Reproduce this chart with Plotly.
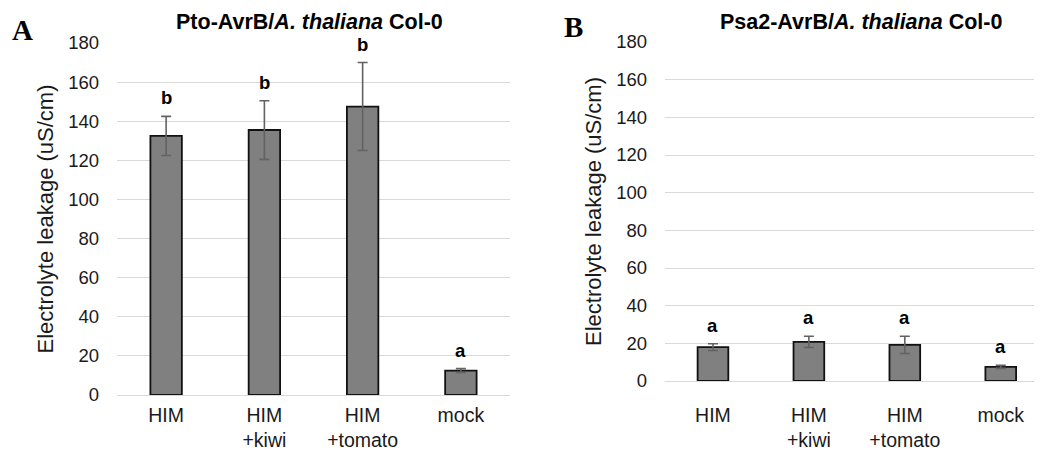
import plotly.graph_objects as go

categories = ["HIM", "HIM<br>+kiwi", "HIM<br>+tomato", "mock"]

pto_values = [132.5, 135.5, 147.5, 12.5]
pto_errors = [10.0, 15.0, 22.5, 1.0]
pto_letters = ["b", "b", "b", "a"]

psa_values = [18.0, 20.8, 19.2, 7.5]
psa_errors = [1.8, 3.0, 4.6, 0.8]
psa_letters = ["a", "a", "a", "a"]

y_ticks = [0, 20, 40, 60, 80, 100, 120, 140, 160, 180]

FONT = "Liberation Sans, Arial, Helvetica, sans-serif"
SERIF = "Liberation Serif, Times New Roman, serif"
BAR_COLOR = "#808080"
GRID = "#d9d9d9"
TXT = "#1a1a1a"

# the page body adds an 8px margin; the figure fills the rest of the window
OFF = 8
W, H = 1042 - OFF, 454 - OFF

def fx(px):
    return (px - OFF) / W

def fy(py):
    return 1 - (py - OFF) / H

fig = go.Figure()

def add_panel(values, errors, xa, ya):
    fig.add_trace(go.Bar(
        x=categories, y=values, xaxis=xa, yaxis=ya,
        marker=dict(color=BAR_COLOR, line=dict(color="#111111", width=1.8)),
        error_y=dict(type="data", array=errors, visible=True,
                     color="#626262", thickness=1.6, width=5),
        showlegend=False, hoverinfo="skip",
    ))

add_panel(pto_values, pto_errors, "x", "y")
add_panel(psa_values, psa_errors, "x2", "y2")

annotations = []
for vals, errs, letters, xr, yr in [
    (pto_values, pto_errors, pto_letters, "x", "y"),
    (psa_values, psa_errors, psa_letters, "x2", "y2"),
]:
    for c, v, e, l in zip(categories, vals, errs, letters):
        annotations.append(dict(
            x=c, y=v + e, xref=xr, yref=yr, text="<b>%s</b>" % l,
            showarrow=False, xanchor="center", yanchor="bottom", yshift=6,
            font=dict(family=FONT, size=18.5, color="black"),
        ))

def paper_text(px, py, text, font, yanchor="middle"):
    return dict(x=fx(px), y=fy(py), xref="paper", yref="paper", text=text,
                showarrow=False, xanchor="center", yanchor=yanchor, font=font)

annotations += [
    paper_text(309, OFF, "<b>Pto-AvrB/<i>A. thaliana</i> Col-0</b>",
               dict(family=FONT, size=21.5, color="black"), "top"),
    paper_text(861, OFF, "<b>Psa2-AvrB/<i>A. thaliana</i> Col-0</b>",
               dict(family=FONT, size=21.5, color="black"), "top"),
    paper_text(22, 30, "<b>A</b>", dict(family=SERIF, size=29, color="black")),
    paper_text(573, 27, "<b>B</b>", dict(family=SERIF, size=29, color="black")),
]

def yaxis_common(domain, anchor):
    return dict(
        domain=domain, range=[0, 180], tickvals=y_ticks, anchor=anchor,
        showgrid=True, gridcolor=GRID, gridwidth=1.3,
        zeroline=True, zerolinecolor=GRID, zerolinewidth=1.3,
        showline=False, ticks="", ticklabelstandoff=17, automargin=False,
        tickfont=dict(family=FONT, size=18.5, color=TXT),
        title=dict(text="Electrolyte leakage (uS/cm)", standoff=8,
                   font=dict(family=FONT, size=22, color=TXT)),
        fixedrange=True,
    )

def xaxis_common(domain, rng, anchor, standoff):
    return dict(
        domain=domain, range=rng, anchor=anchor, type="category",
        showgrid=False, zeroline=False, showline=False, ticks="",
        ticklabelstandoff=standoff, automargin=False,
        tickfont=dict(family=FONT, size=19.5, color=TXT),
        fixedrange=True,
    )

fig.update_layout(
    width=W, height=H,
    margin=dict(l=0, r=0, t=0, b=0, autoexpand=False),
    paper_bgcolor="white", plot_bgcolor="white",
    bargap=0.68,
    xaxis=xaxis_common([fx(117), fx(510)], [-0.5, 3.5], "y", 6),
    yaxis=yaxis_common([fy(395), fy(43)], "x"),
    xaxis2=xaxis_common([fx(665), 1.0], [-0.5, 3.43], "y2", 20),
    yaxis2=yaxis_common([fy(381), fy(42)], "x2"),
    annotations=annotations,
)

fig.write_html("out.html")
